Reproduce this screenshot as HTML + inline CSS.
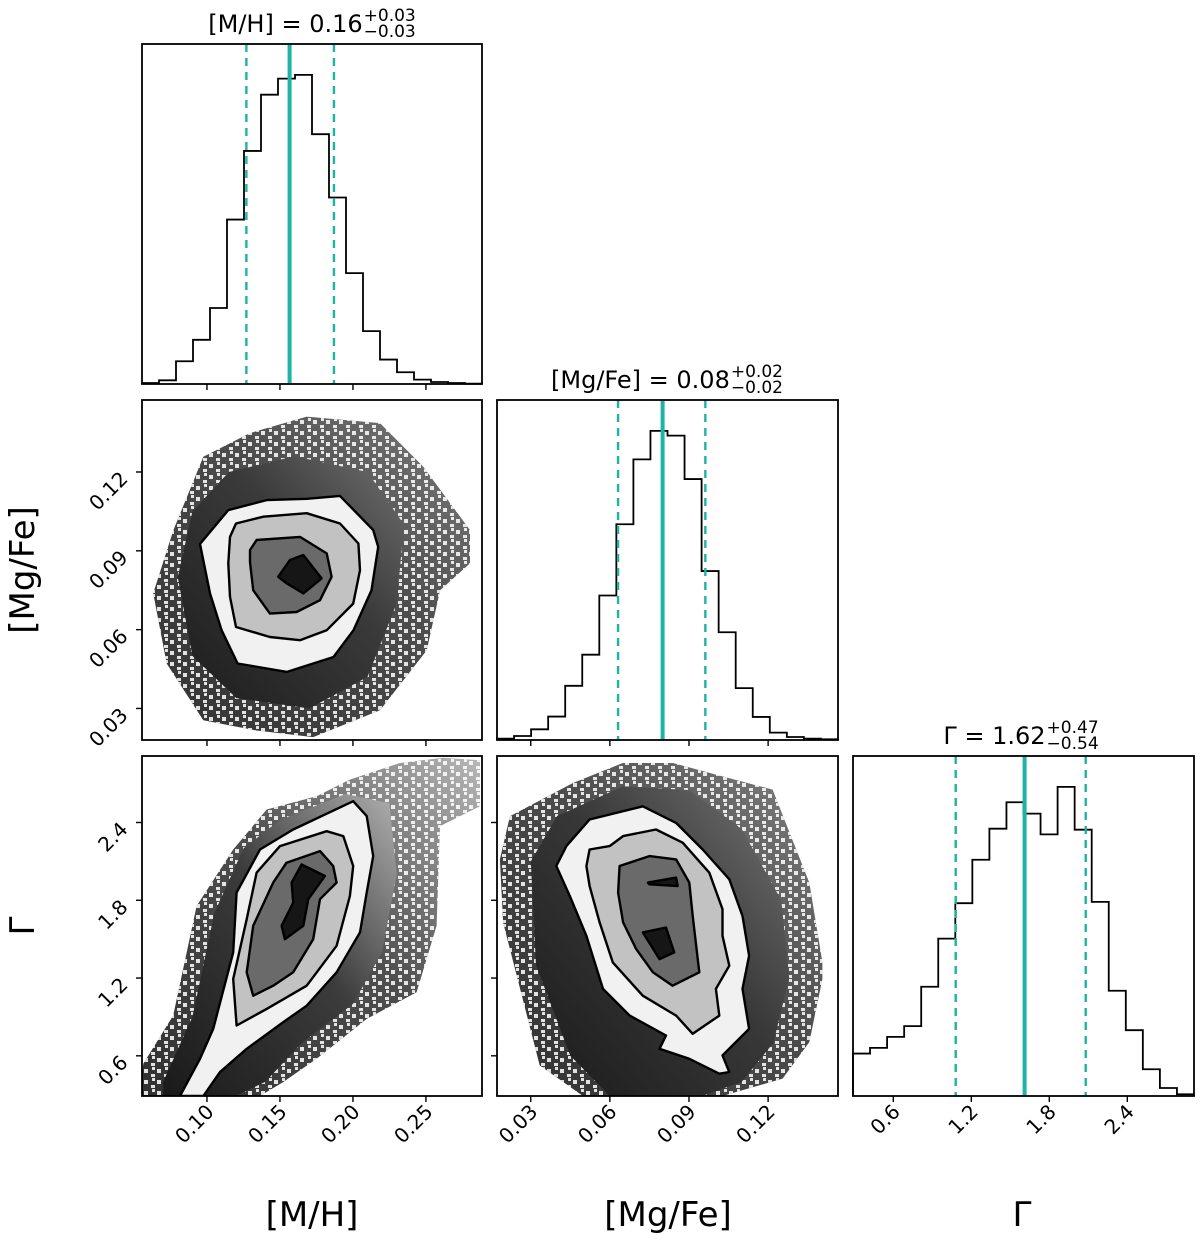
<!DOCTYPE html>
<html><head><meta charset="utf-8">
<style>
html,body{margin:0;padding:0;background:#fff;}
svg{display:block;font-family:"DejaVu Sans","Liberation Sans",sans-serif;}
</style></head>
<body>
<svg id="fig" xmlns="http://www.w3.org/2000/svg" width="1200" height="1241" viewBox="0 0 1200 1241">
<defs>
<linearGradient id="gA" x1="0" y1="1" x2="1" y2="0"><stop offset="0" stop-color="#1c1c1c"/><stop offset="0.6" stop-color="#3a3a3a"/><stop offset="1" stop-color="#707070"/></linearGradient>
<linearGradient id="gB" x1="0" y1="1" x2="1" y2="0"><stop offset="0" stop-color="#1a1a1a"/><stop offset="0.55" stop-color="#3c3c3c"/><stop offset="1" stop-color="#b0b0b0"/></linearGradient>
<linearGradient id="gC" x1="0" y1="1" x2="1" y2="0"><stop offset="0" stop-color="#1a1a1a"/><stop offset="0.55" stop-color="#383838"/><stop offset="1" stop-color="#757575"/></linearGradient>
<pattern id="speck" width="13" height="11" patternUnits="userSpaceOnUse">
<rect x="1" y="2" width="4" height="4" fill="#fff"/><rect x="8" y="7" width="4" height="3" fill="#fff"/><rect x="9" y="0" width="3" height="3" fill="#fff"/>
</pattern>
</defs>
<g id="layer"></g>
</svg>
<script>
// ---- data ----
const mhRange = [0.0555, 0.2884];
const mgRange = [0.0172, 0.1465];
const gRange = [0.29, 2.913];
const mhCounts = [3,11,68,132,227,491,696,864,912,923,746,557,331,158,73,35,13,6,3,1];
const mgCounts = [4,12,32,70,162,255,432,645,839,924,910,780,505,322,155,69,22,9,4,2];
const gCounts = [127,144,177,209,327,471,577,707,800,879,845,783,925,797,581,315,197,80,24,5];
const mhQuant = [0.127, 0.1566, 0.187];
const mgQuant = [0.0631, 0.080, 0.0962];
const gQuant = [1.08, 1.61, 2.08];
const mhTicks = [0.10, 0.15, 0.20, 0.25];
const mhTickLabels = ["0.10","0.15","0.20","0.25"];
const mgTicks = [0.03, 0.06, 0.09, 0.12];
const mgTickLabels = ["0.03","0.06","0.09","0.12"];
const gTicks = [0.6, 1.2, 1.8, 2.4];
const gTickLabels = ["0.6","1.2","1.8","2.4"];

const aCloud = [[0.0632,0.0738],[0.0770,0.0979],[0.0975,0.1258],[0.1295,0.1348],[0.1683,0.1411],[0.2185,0.1386],[0.2482,0.1220],[0.2802,0.0979],[0.2802,0.0852],[0.2597,0.0750],[0.2505,0.0521],[0.2185,0.0293],[0.1728,0.0191],[0.1340,0.0216],[0.0975,0.0255],[0.0724,0.0471]];
const aCore = [[0.0800,0.0800],[0.0900,0.1050],[0.1150,0.1200],[0.1600,0.1260],[0.2100,0.1200],[0.2350,0.1000],[0.2300,0.0700],[0.2100,0.0420],[0.1700,0.0300],[0.1200,0.0340],[0.0900,0.0500]];
const aC1 = [[0.0952,0.0926],[0.1146,0.1055],[0.1409,0.1093],[0.1683,0.1098],[0.1911,0.1109],[0.2139,0.0979],[0.2173,0.0915],[0.2127,0.0750],[0.2004,0.0598],[0.1867,0.0496],[0.1548,0.0439],[0.1210,0.0471],[0.1100,0.0598],[0.1021,0.0738]];
const aC2 = [[0.1158,0.0953],[0.1199,0.1004],[0.1386,0.1030],[0.1683,0.1043],[0.1911,0.1004],[0.2037,0.0928],[0.2048,0.0826],[0.2002,0.0699],[0.1820,0.0598],[0.1637,0.0560],[0.1431,0.0572],[0.1199,0.0610],[0.1158,0.0725],[0.1146,0.0852]];
const aC3 = [[0.1295,0.0903],[0.1340,0.0941],[0.1637,0.0953],[0.1820,0.0890],[0.1854,0.0801],[0.1774,0.0712],[0.1614,0.0667],[0.1431,0.0661],[0.1317,0.0750],[0.1295,0.0857]];
const aC4 = [[0.1488,0.0801],[0.1568,0.0865],[0.1660,0.0884],[0.1785,0.0795],[0.1660,0.0738],[0.1546,0.0776]];
const bCloud = [[0.0564,0.539],[0.0769,0.911],[0.0929,1.756],[0.1180,2.192],[0.1409,2.500],[0.1751,2.602],[0.1979,2.731],[0.2322,2.859],[0.2619,2.90],[0.2870,2.88],[0.2870,2.525],[0.2596,2.372],[0.2573,1.603],[0.2436,1.090],[0.2094,0.885],[0.1751,0.577],[0.1523,0.398],[0.1363,0.29],[0.0555,0.29],[0.0555,0.45]];
const bCore = [[0.0700,0.40],[0.0900,0.90],[0.1050,1.70],[0.1250,2.20],[0.1500,2.42],[0.1950,2.62],[0.2250,2.55],[0.2300,2.00],[0.2200,1.40],[0.2000,1.00],[0.1650,0.70],[0.1400,0.40],[0.1200,0.29],[0.0700,0.29]];
const bC1 = [[0.0815,0.29],[0.0952,0.577],[0.1043,0.808],[0.1180,1.398],[0.1203,1.859],[0.1363,2.192],[0.1591,2.346],[0.2002,2.564],[0.2094,2.449],[0.2139,2.141],[0.2094,1.859],[0.2048,1.552],[0.1888,1.244],[0.1683,0.987],[0.1523,0.860],[0.1272,0.654],[0.1089,0.475],[0.0975,0.29]];
const bC2 = [[0.1203,0.834],[0.1180,1.193],[0.1272,1.654],[0.1340,2.013],[0.1500,2.218],[0.1820,2.333],[0.1934,2.295],[0.2002,2.064],[0.1979,1.833],[0.1888,1.449],[0.1683,1.141],[0.1409,0.962]];
const bC3 = [[0.1317,1.064],[0.1272,1.244],[0.1317,1.603],[0.1454,1.936],[0.1545,2.090],[0.1774,2.179],[0.1865,2.064],[0.1888,1.936],[0.1774,1.808],[0.1728,1.500],[0.1591,1.244],[0.1454,1.141]];
const bC4 = [[0.1580,1.936],[0.1648,2.077],[0.1808,1.987],[0.1694,1.808],[0.1660,1.603],[0.1534,1.500],[0.1511,1.603],[0.1591,1.782]];
const cCloud = [[0.0183,2.115],[0.0221,2.448],[0.0460,2.705],[0.0649,2.859],[0.0839,2.859],[0.1027,2.756],[0.1217,2.654],[0.1356,1.936],[0.1406,1.321],[0.1406,1.193],[0.1356,0.706],[0.1255,0.424],[0.1027,0.29],[0.0498,0.29],[0.0334,0.526],[0.0195,1.629]];
const cCore = [[0.0300,2.100],[0.0400,2.450],[0.0650,2.680],[0.0900,2.650],[0.1100,2.350],[0.1250,1.800],[0.1280,1.200],[0.1220,0.700],[0.1100,0.400],[0.0950,0.29],[0.0600,0.29],[0.0450,0.600],[0.0320,1.300]];
const cC1 = [[0.0397,2.064],[0.0435,2.218],[0.0523,2.423],[0.0725,2.525],[0.0851,2.397],[0.0952,2.192],[0.1053,1.962],[0.1103,1.679],[0.1128,1.372],[0.1103,1.116],[0.1128,0.808],[0.1027,0.603],[0.1053,0.475],[0.1015,0.462],[0.0901,0.577],[0.0788,0.654],[0.0813,0.757],[0.0675,0.910],[0.0574,1.116],[0.0511,1.526],[0.0448,1.833]];
const cC2 = [[0.0511,2.064],[0.0523,2.192],[0.0599,2.218],[0.0650,2.295],[0.0775,2.346],[0.0876,2.244],[0.0977,2.013],[0.1027,1.731],[0.1027,1.526],[0.1053,1.295],[0.1002,1.116],[0.1015,0.910],[0.0914,0.770],[0.0851,0.910],[0.0725,1.064],[0.0611,1.321],[0.0561,1.629],[0.0523,1.910]];
const cC3 = [[0.0637,2.064],[0.0750,2.141],[0.0851,2.115],[0.0901,1.936],[0.0914,1.679],[0.0939,1.244],[0.0838,1.141],[0.0763,1.244],[0.0700,1.423],[0.0650,1.629],[0.0631,1.859]];
const cC4a = [[0.0744,1.936],[0.0851,1.975],[0.0857,1.910],[0.0750,1.923]];
const cC4b = [[0.0725,1.552],[0.0813,1.590],[0.0844,1.398],[0.0788,1.346]];

// ---- helpers ----
const NS = "http://www.w3.org/2000/svg";
const layer = document.getElementById("layer");
function mk(tag, attrs, parent) {
  const el = document.createElementNS(NS, tag);
  for (const k in attrs) el.setAttribute(k, attrs[k]);
  (parent || layer).appendChild(el);
  return el;
}
function scale(d0, d1, p0, p1) { return v => p0 + (v - d0) / (d1 - d0) * (p1 - p0); }

const COLS = [[142,482],[497,838],[853,1194]];
const ROWS = [[44,384],[400,740],[756,1096]];
const TEAL = "#1fb2a6";

function frame(name) {
  const g = mk("g", {});
  
  
  return g;
}
function border(g, col, row) {
  const r = mk("rect", {x: COLS[col][0], y: ROWS[row][0], width: COLS[col][1]-COLS[col][0], height: ROWS[row][1]-ROWS[row][0], fill: "none", stroke: "#000", "stroke-width": 1.8}, g);
  
  
}
function xTicks(g, col, row, sx, ticks, labels) {
  const yb = ROWS[row][1];
  ticks.forEach((t, i) => {
    const x = sx(t);
    const tk = mk("line", {x1: x, x2: x, y1: yb, y2: yb + 6, stroke: "#000", "stroke-width": 1.4}, g);
    
    
    if (labels) {
      const tx = mk("text", {x: 0, y: 0, "font-size": 20, "text-anchor": "end", transform: `translate(${x+8},${yb+17}) rotate(-45)`}, g);
      tx.textContent = labels[i];
      
      
    }
  });
}
function yTicks(g, col, row, sy, ticks, labels) {
  const xl = COLS[col][0];
  ticks.forEach((t, i) => {
    const y = sy(t);
    const tk = mk("line", {x1: xl - 6, x2: xl, y1: y, y2: y, stroke: "#000", "stroke-width": 1.4}, g);
    
    
    if (labels) {
      const tx = mk("text", {x: 0, y: 0, "font-size": 20, "text-anchor": "end", transform: `translate(${xl-13},${y+8}) rotate(-45)`}, g);
      tx.textContent = labels[i];
      
      
    }
  });
}
function hist(g, col, row, range, counts, quant) {
  const x0 = COLS[col][0], x1 = COLS[col][1], y0 = ROWS[row][0], y1 = ROWS[row][1];
  const sx = scale(range[0], range[1], x0, x1);
  const mx = Math.max(...counts) * 1.1;
  const sy = scale(0, mx, y1, y0);
  const n = counts.length, w = (range[1] - range[0]) / n;
  let d = `M${sx(range[0])},${y1}`;
  counts.forEach((c, i) => {
    d += ` L${sx(range[0] + i*w)},${sy(c)} L${sx(range[0] + (i+1)*w)},${sy(c)}`;
  });
  d += ` L${sx(range[1])},${y1}`;
  const p = mk("path", {d: d, fill: "none", stroke: "#000", "stroke-width": 1.8}, g);
  
  
  quant.forEach((q, i) => {
    const x = sx(q);
    const ln = mk("line", {x1: x, x2: x, y1: y0, y2: y1, stroke: TEAL, "stroke-width": i === 1 ? 4 : 2.4, "stroke-dasharray": i === 1 ? "none" : "8,6"}, g);
    
    
  });
  return sx;
}
function poly(g, pts, sx, sy, fill, stroke, name, extra) {
  const d = pts.map(p => `${sx(p[0]).toFixed(1)},${sy(p[1]).toFixed(1)}`).join(" ");
  const el = mk("polygon", Object.assign({points: d, fill: fill, stroke: stroke, "stroke-width": stroke === "none" ? 0 : 2.4, "stroke-linejoin": "round"}, extra || {}), g);
  
  
}
function density(g, col, row, xr, yr, cloud, core, grad, levels, clipId) {
  const x0 = COLS[col][0], x1 = COLS[col][1], y0 = ROWS[row][0], y1 = ROWS[row][1];
  const sx = scale(xr[0], xr[1], x0, x1), sy = scale(yr[0], yr[1], y1, y0);
  const cp = mk("clipPath", {id: clipId}, g);
  mk("rect", {x: x0, y: y0, width: x1-x0, height: y1-y0}, cp);
  const inner = mk("g", {"clip-path": `url(#${clipId})`}, g);
  poly(inner, cloud, sx, sy, `url(#${grad})`, "none", 'scatter-cloud', {"fill-opacity": 0.9});
  poly(inner, cloud, sx, sy, "url(#speck)", "none", 'scatter-speckle', {"fill-opacity": 0.85});
  poly(inner, core, sx, sy, `url(#${grad})`, "none", 'scatter-core');
  const fills = ["#f1f1f1", "#c2c2c2", "#6a6a6a", "#161616", "#161616"];
  levels.forEach((c, i) => poly(inner, c, sx, sy, fills[Math.min(i, 4)], "none", 'density-level'));
  levels.forEach(c => poly(inner, c, sx, sy, "none", "#000", 'contour-line'));
  return [sx, sy];
}

// ---- panels ----
let g = frame('mh-histogram-panel');
let sx = hist(g, 0, 0, mhRange, mhCounts, mhQuant);
border(g, 0, 0); xTicks(g, 0, 0, sx, mhTicks, null);

g = frame('mgfe-vs-mh-panel');
let s = density(g, 0, 1, mhRange, [0.018, 0.1474], aCloud, aCore, "gA", [aC1, aC2, aC3, aC4], "clipA");
border(g, 0, 1); xTicks(g, 0, 1, s[0], mhTicks, null); yTicks(g, 0, 1, s[1], mgTicks, mgTickLabels);

g = frame('mgfe-histogram-panel');
sx = hist(g, 1, 1, mgRange, mgCounts, mgQuant);
border(g, 1, 1); xTicks(g, 1, 1, sx, mgTicks, null);

g = frame('gamma-vs-mh-panel');
s = density(g, 0, 2, mhRange, gRange, bCloud, bCore, "gB", [bC1, bC2, bC3, bC4], "clipB");
border(g, 0, 2); xTicks(g, 0, 2, s[0], mhTicks, mhTickLabels); yTicks(g, 0, 2, s[1], gTicks, gTickLabels);

g = frame('gamma-vs-mgfe-panel');
s = density(g, 1, 2, mgRange, gRange, cCloud, cCore, "gC", [cC1, cC2, cC3, cC4a, cC4b], "clipC");
border(g, 1, 2); xTicks(g, 1, 2, s[0], mgTicks, mgTickLabels); yTicks(g, 1, 2, s[1], gTicks, null);

g = frame('gamma-histogram-panel');
sx = hist(g, 2, 2, gRange, gCounts, gQuant);
border(g, 2, 2); xTicks(g, 2, 2, sx, gTicks, gTickLabels);
</script>
<script>
(function(){
  const NS = "http://www.w3.org/2000/svg";
  const fig = document.getElementById("fig");
  function title(cx, y, main, up, lo, name) {
    const g = document.createElementNS(NS, "g");
    
    
    fig.appendChild(g);
    const t = document.createElementNS(NS, "text");
    t.setAttribute("font-size", 24); t.setAttribute("y", y); t.setAttribute("x", 0);
    t.textContent = main; g.appendChild(t);
    const mw = t.getComputedTextLength();
    const a = document.createElementNS(NS, "text");
    a.setAttribute("font-size", 17); a.setAttribute("x", mw + 1); a.setAttribute("y", y - 11);
    a.textContent = up; g.appendChild(a);
    const b = document.createElementNS(NS, "text");
    b.setAttribute("font-size", 17); b.setAttribute("x", mw + 1); b.setAttribute("y", y + 5);
    b.textContent = lo; g.appendChild(b);
    const tw = mw + 1 + Math.max(a.getComputedTextLength(), b.getComputedTextLength());
    g.setAttribute("transform", `translate(${cx - tw/2},0)`);
  }
  title(312, 32, "[M/H] = 0.16", "+0.03", "\u22120.03", 'mh-title');
  title(667, 388, "[Mg/Fe] = 0.08", "+0.02", "\u22120.02", 'mgfe-title');
  title(1021, 744, "\u0393 = 1.62", "+0.47", "\u22120.54", 'gamma-title');
  function lab(x, y, txt, rot, name) {
    const t = document.createElementNS(NS, "text");
    t.setAttribute("x", 0); t.setAttribute("y", 0);
    t.setAttribute("font-size", 34); t.setAttribute("text-anchor", "middle");
    t.setAttribute("transform", `translate(${x},${y}) rotate(${rot})`);
    t.textContent = txt;
    
    
    fig.appendChild(t);
  }
  lab(312, 1226, "[M/H]", 0, 'x-axis-label-mh');
  lab(668, 1226, "[Mg/Fe]", 0, 'x-axis-label-mgfe');
  lab(1022, 1226, "\u0393", 0, 'x-axis-label-gamma');
  lab(34, 570, "[Mg/Fe]", -90, 'y-axis-label-mgfe');
  lab(34, 926, "\u0393", -90, 'y-axis-label-gamma');
})();
</script>
</body></html>
